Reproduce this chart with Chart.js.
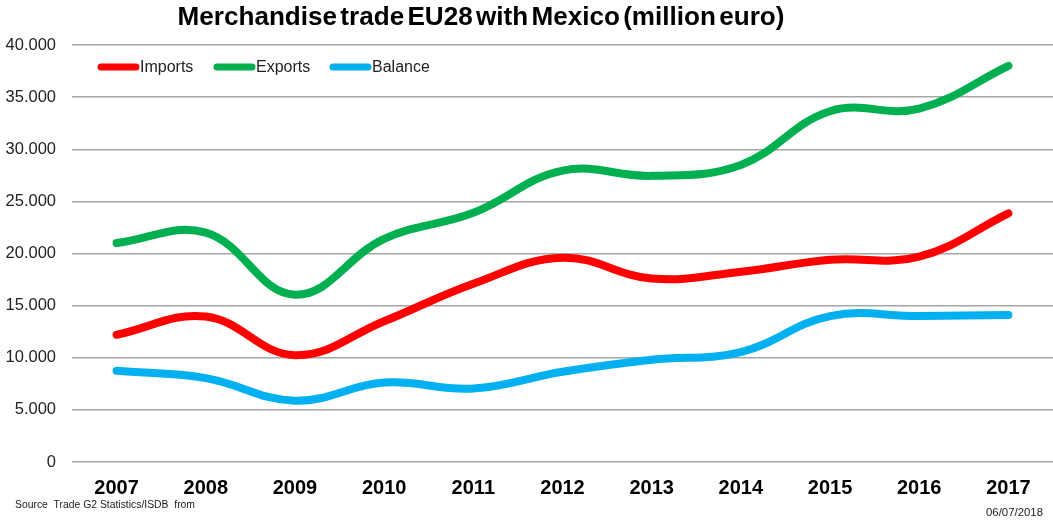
<!DOCTYPE html>
<html>
<head>
<meta charset="utf-8">
<script src="https://cdn.jsdelivr.net/npm/chart.js@4"></script>
<style>
  html, body { margin: 0; padding: 0; background: #fff; }
  #wrap { width: 1053px; height: 521px; position: relative; }
</style>
</head>
<body>
<div id="wrap"><canvas id="tradeChart"></canvas></div>
<script>
const years = ["2007", "2008", "2009", "2010", "2011", "2012", "2013", "2014", "2015", "2016", "2017"];
const imports = [12200, 13950, 10250, 13500, 17100, 19600, 17600, 18250, 19400, 19700, 23850];
const exports = [21000, 22000, 16050, 21400, 23900, 27950, 27450, 28500, 33650, 33900, 38000];
const balance = [8750, 8050, 5880, 7620, 7050, 8650, 9800, 10550, 14000, 14000, 14100];

const titleText = "Merchandise trade EU28 with Mexico (million euro)";
const sourceText = "Source  Trade G2 Statistics/ISDB  from";
const dateText = "06/07/2018";

function formatThousands(v) {
    return String(v).replace(/\B(?=(\d{3})+(?!\d))/g, ".");
}

// draw text squeezed/stretched to a given width
function fitText(ctx, text, x, y, width) {
    const w = ctx.measureText(text).width;
    ctx.save();
    ctx.translate(x, y);
    ctx.scale(width / w, 1);
    ctx.fillText(text, 0, 0);
    ctx.restore();
}

// title, legend inside plot and footnotes
const decorations = {
    id: 'decorations',
    afterDraw: chart => {
        const ctx = chart.ctx;
        ctx.save();
        ctx.fillStyle = '#000';
        ctx.font = 'bold 26px "Liberation Sans", Arial, sans-serif';
        ctx.wordSpacing = '-4px';
        ctx.textAlign = 'center';
        ctx.textBaseline = 'middle';
        fitText(ctx, titleText, 481, 18, 607);
        ctx.wordSpacing = '0px';

        // legend
        const startX = 98;
        const step = 116;
        const y = 67;
        chart.data.datasets.forEach((ds, i) => {
            const x = startX + i * step;
            ctx.strokeStyle = ds.borderColor;
            ctx.lineWidth = 7;
            ctx.lineCap = 'round';
            ctx.beginPath();
            ctx.moveTo(x + 3, y);
            ctx.lineTo(x + 38, y);
            ctx.stroke();
            ctx.fillStyle = '#222';
            ctx.font = '16px "Liberation Sans", Arial, sans-serif';
            ctx.textAlign = 'left';
            ctx.fillText(ds.label, x + 42, y + 1);
        });

        ctx.fillStyle = '#222';
        ctx.font = '10px "Liberation Sans", Arial, sans-serif';
        ctx.textAlign = 'left';
        fitText(ctx, sourceText, 15, 505, 180);
        ctx.textAlign = 'right';
        fitText(ctx, dateText, 1043, 513, 57);
        ctx.restore();
    }
};

const ctx = document.getElementById("tradeChart").getContext("2d");
new Chart(ctx, {
    type: 'line',
    data: {
        labels: years,
        datasets: [
            { label: 'Imports', data: imports, borderColor: '#ff0000' },
            { label: 'Exports', data: exports, borderColor: '#00b050' },
            { label: 'Balance', data: balance, borderColor: '#00b0f0' }
        ].map(ds => Object.assign(ds, {
            borderWidth: 8,
            tension: 0.4,
            pointRadius: 0,
            fill: false,
            borderCapStyle: 'round',
            borderJoinStyle: 'round'
        }))
    },
    options: {
        responsive: true,
        maintainAspectRatio: false,
        animation: false,
        layout: { padding: { top: 45, right: 0, bottom: 0, left: 0 } },
        plugins: {
            legend: { display: false },
            title: { display: false },
            tooltip: { enabled: false }
        },
        scales: {
            x: {
                offset: true,
                grid: { display: false },
                border: { display: false },
                ticks: {
                    color: '#000',
                    padding: 6,
                    font: { family: '"Liberation Sans", Arial, sans-serif', size: 20, weight: 'bold' }
                },
                afterFit: scale => { scale.height = 59; }
            },
            y: {
                min: 0,
                max: 40000,
                ticks: {
                    stepSize: 5000,
                    color: '#222',
                    padding: 16,
                    font: { family: '"Liberation Sans", Arial, sans-serif', size: 16.5 },
                    callback: v => formatThousands(v)
                },
                grid: { color: '#a6a6a6', lineWidth: 1.5, drawTicks: false },
                border: { display: false },
                afterFit: scale => { scale.width = 72; }
            }
        }
    },
    plugins: [decorations]
});
</script>
</body>
</html>
